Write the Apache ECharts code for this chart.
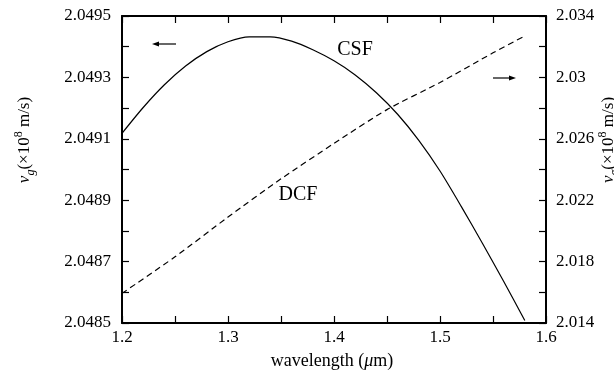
<!DOCTYPE html>
<html><head><meta charset="utf-8">
<script src="https://cdn.jsdelivr.net/npm/echarts@6/dist/echarts.min.js"></script>
<style>html,body{margin:0;padding:0;background:#fff}#c{width:614px;height:376px}</style>
</head><body><div id="c"></div>
<script>
// wavelength (um) and CSF group velocity (x1e8 m/s, left axis)
const csfX = [1.20,1.22,1.24,1.26,1.28,1.30,1.32,1.34,1.36,1.38,1.40,1.42,1.44,1.46,1.48,1.50,1.52,1.54,1.56,1.58];
const csfY = [2.049118,2.049202,2.049276,2.049337,2.049384,2.049416,2.049432,2.049432,2.049418,2.049390,2.049354,2.049308,2.049250,2.049180,2.049095,2.048995,2.048880,2.048760,2.048636,2.048508];
// DCF velocity (x1e8 m/s, right axis)
const dcfX = [1.20,1.25,1.30,1.35,1.40,1.45,1.50,1.55,1.58];
const dcfY = [2.01593,2.01831,2.02090,2.02339,2.02570,2.02790,2.02967,2.03160,2.03270];
const xTicks = [1.2,1.3,1.4,1.5,1.6];
const leftTicks = [2.0485,2.0487,2.0489,2.0491,2.0493,2.0495];
const rightTicks = [2.014,2.018,2.022,2.026,2.03,2.034];

const FF = 'Liberation Serif';
const chart = echarts.init(document.getElementById('c'));
const axLine = {show:true, lineStyle:{color:'#000', width:2}};
const tick = {show:true, inside:true, length:7, lineStyle:{color:'#000', width:1.2}};
const minor = {show:true, splitNumber:2, length:7, lineStyle:{color:'#000', width:1.2}};
const lbl = {color:'#000', fontFamily:FF, fontSize:17};
const titleRich = {
  n:{fontFamily:FF, fontSize:17, lineHeight:24, fill:'#000'},
  i:{fontFamily:FF, fontSize:17, lineHeight:24, fontStyle:'italic', fill:'#000'},
  sub:{fontFamily:FF, fontSize:12, lineHeight:11, verticalAlign:'bottom', fontStyle:'italic', fill:'#000'},
  sup:{fontFamily:FF, fontSize:12, lineHeight:11, verticalAlign:'top', fill:'#000'}
};

chart.setOption({
  animation:false,
  grid:{left:122, right:68, top:16, bottom:53},
  xAxis:[
    {type:'value', min:xTicks[0], max:xTicks[xTicks.length-1], interval:0.1,
     axisLine:axLine, axisTick:tick, minorTick:minor, splitLine:{show:false},
     axisLabel:Object.assign({margin:6, formatter:v=>String(parseFloat(v.toFixed(2)))}, lbl)},
    {type:'value', position:'top', min:xTicks[0], max:xTicks[xTicks.length-1], interval:0.1,
     axisLine:axLine, axisTick:tick, minorTick:minor, splitLine:{show:false}, axisLabel:{show:false}}
  ],
  yAxis:[
    {type:'value', min:leftTicks[0], max:leftTicks[leftTicks.length-1], interval:0.0002,
     axisLine:axLine, axisTick:tick, minorTick:minor, splitLine:{show:false},
     axisLabel:Object.assign({margin:11, formatter:v=>v.toFixed(4)}, lbl)},
    {type:'value', position:'right', min:rightTicks[0], max:rightTicks[rightTicks.length-1], interval:0.004,
     axisLine:axLine, axisTick:tick, minorTick:minor, splitLine:{show:false},
     axisLabel:Object.assign({margin:10, formatter:v=>String(parseFloat(v.toFixed(3)))}, lbl)}
  ],
  series:[
    {name:'CSF', type:'line', xAxisIndex:0, yAxisIndex:0, smooth:0.25, symbol:'none',
     lineStyle:{color:'#000', width:1.2}, data:csfX.map((x,i)=>[x,csfY[i]])},
    {name:'DCF', type:'line', xAxisIndex:0, yAxisIndex:1, smooth:0.25, symbol:'none',
     lineStyle:{color:'#000', width:1.2, type:[6,4]}, data:dcfX.map((x,i)=>[x,dcfY[i]])}
  ],
  graphic:[
    {type:'text', x:355, y:50, style:{text:'CSF', font:'20px "'+FF+'"', fill:'#000', align:'center', verticalAlign:'middle'}},
    {type:'text', x:298, y:195, style:{text:'DCF', font:'20px "'+FF+'"', fill:'#000', align:'center', verticalAlign:'middle'}},
    {type:'line', shape:{x1:157, y1:44, x2:176, y2:44}, style:{stroke:'#000', lineWidth:1.2}},
    {type:'polygon', shape:{points:[[152,44],[159,41.5],[159,46.5]]}, style:{fill:'#000'}},
    {type:'line', shape:{x1:493, y1:78, x2:511, y2:78}, style:{stroke:'#000', lineWidth:1.2}},
    {type:'polygon', shape:{points:[[516,78],[509,75.5],[509,80.5]]}, style:{fill:'#000'}},
    {type:'text', x:332, y:361, style:{text:'{n|wavelength (}{i|μ}{n|m)}', align:'center', verticalAlign:'middle',
      rich:{n:{fontFamily:FF, fontSize:18, fill:'#000'}, i:{fontFamily:FF, fontSize:18, fontStyle:'italic', fill:'#000'}}}},
    {type:'text', x:25, y:140, rotation:Math.PI/2, style:{text:'{i|v}{sub|g}{n|(×10}{sup|8}{n| m/s)}', align:'center', verticalAlign:'middle', rich:titleRich}},
    {type:'text', x:609, y:140, rotation:Math.PI/2, style:{text:'{i|v}{sub|σ}{n|(×10}{sup|8}{n| m/s)}', align:'center', verticalAlign:'middle', rich:titleRich}}
  ]
});
</script></body></html>
